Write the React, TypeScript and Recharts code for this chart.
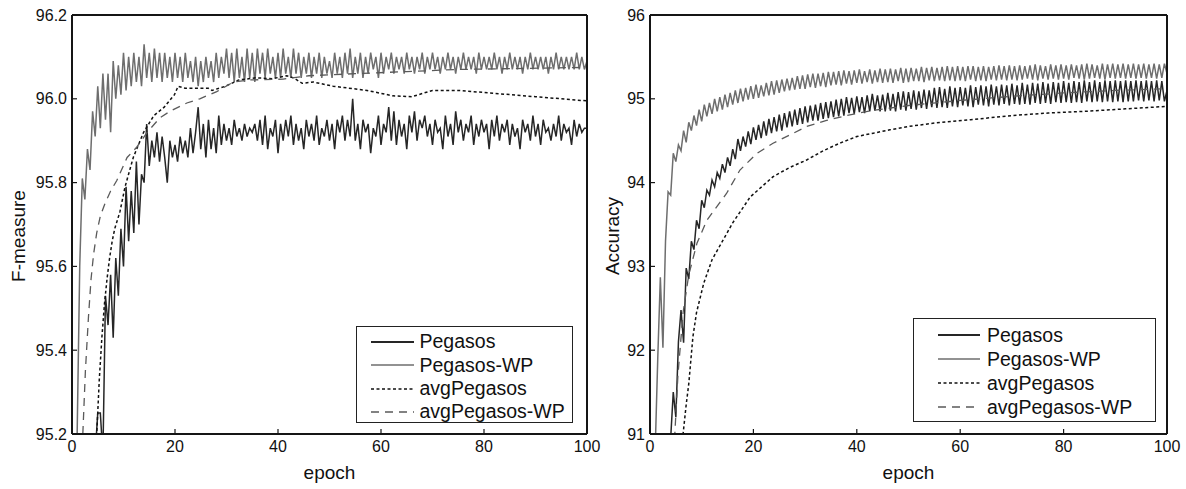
import React from 'react';
import { LineChart, Line, XAxis, YAxis, Legend, Label } from 'recharts';

const FONT = '"Liberation Sans", Arial, Helvetica, sans-serif';

// x categories: epochs sampled every half epoch
const epochs = Array.from({ length: 201 }, (_, i) => i * 0.5);

const xMajor = [0, 20, 40, 60, 80, 100];
const xMinor = [10, 30, 50, 70, 90];

const leftYTicks = [95.2, 95.4, 95.6, 95.8, 96.0, 96.2];
const leftYMinor = [95.3, 95.5, 95.7, 95.9, 96.1];
const rightYTicks = [91, 92, 93, 94, 95, 96];
const rightYMinor = [91.5, 92.5, 93.5, 94.5, 95.5];

const seriesNames = ['Pegasos', 'Pegasos-WP', 'avgPegasos', 'avgPegasos-WP'];

// ---------- Left panel: F-measure ----------
const leftPegasos = [
  94.30, 94.40, 94.50, 94.60, 94.70, 94.80, 94.90, 95.00, 95.05, 95.15,
  95.25, 95.25, 95.15, 95.53, 95.46, 95.58, 95.43, 95.62, 95.53, 95.69,
  95.60, 95.79, 95.66, 95.78, 95.68, 95.85, 95.70, 95.82, 95.80, 95.94,
  95.84, 95.90, 95.86, 95.92, 95.85, 95.91, 95.86, 95.80, 95.90, 95.86,
  95.89, 95.85, 95.91, 95.87, 95.90, 95.86, 95.93, 95.87, 95.92, 95.98,
  95.88, 95.94, 95.86, 95.95, 95.88, 95.93, 95.87, 95.96, 95.89, 95.94,
  95.90, 95.93, 95.89, 95.95, 95.91, 95.93, 95.90, 95.94, 95.91, 95.93,
  95.92, 95.94, 95.90, 95.95, 95.89, 95.96, 95.88, 95.93, 95.91, 95.95,
  95.87, 95.94, 95.90, 95.95, 95.91, 95.96, 95.89, 95.94, 95.90, 95.93,
  95.88, 95.95, 95.91, 95.94, 95.90, 95.96, 95.89, 95.93, 95.91, 95.95,
  95.90, 95.94, 95.88, 95.95, 95.92, 95.96, 95.90, 95.95, 95.91, 96.00,
  95.90, 95.94, 95.88, 95.95, 95.92, 95.94, 95.87, 95.93, 95.91, 95.96,
  95.89, 95.94, 95.92, 95.98, 95.90, 95.97, 95.89, 95.95, 95.91, 95.94,
  95.88, 95.96, 95.92, 95.97, 95.90, 95.95, 95.93, 95.96, 95.91, 95.94,
  95.89, 95.95, 95.92, 95.93, 95.88, 95.96, 95.91, 95.94, 95.89, 95.97,
  95.92, 95.95, 95.90, 95.94, 95.92, 95.96, 95.89, 95.94, 95.91, 95.95,
  95.92, 95.94, 95.88, 95.95, 95.91, 95.96, 95.90, 95.94, 95.92, 95.95,
  95.89, 95.94, 95.91, 95.93, 95.88, 95.95, 95.92, 95.94, 95.90, 95.96,
  95.91, 95.94, 95.89, 95.95, 95.92, 95.93, 95.90, 95.94, 95.91, 95.96,
  95.90, 95.94, 95.92, 95.93, 95.89, 95.95, 95.91, 95.94, 95.92, 95.93,
  95.93,
];

const leftPegasosWP = [
  94.60, 94.85, 95.20, 95.60, 95.81, 95.76, 95.88, 95.83, 95.97, 95.91,
  96.03, 95.93, 96.06, 95.95, 96.06, 95.92, 96.09, 96.00, 96.08, 96.01,
  96.11, 96.02, 96.10, 96.03, 96.11, 96.04, 96.10, 96.03, 96.13, 96.05,
  96.11, 96.04, 96.12, 96.05, 96.11, 96.04, 96.11, 96.05, 96.10, 96.04,
  96.11, 96.05, 96.10, 96.04, 96.11, 96.05, 96.09, 96.04, 96.10, 96.03,
  96.09, 96.04, 96.10, 96.05, 96.09, 96.04, 96.11, 96.05, 96.10, 96.06,
  96.12, 96.05, 96.11, 96.04, 96.12, 96.05, 96.10, 96.04, 96.12, 96.05,
  96.11, 96.04, 96.12, 96.06, 96.11, 96.05, 96.12, 96.06, 96.10, 96.05,
  96.11, 96.05, 96.12, 96.06, 96.10, 96.05, 96.12, 96.06, 96.11, 96.05,
  96.10, 96.06, 96.11, 96.05, 96.10, 96.06, 96.11, 96.05, 96.10, 96.06,
  96.09, 96.05, 96.11, 96.06, 96.10, 96.05, 96.11, 96.06, 96.12, 96.05,
  96.10, 96.06, 96.11, 96.05, 96.10, 96.06, 96.11, 96.07, 96.10, 96.05,
  96.11, 96.06, 96.10, 96.07, 96.11, 96.06, 96.10, 96.07, 96.10, 96.06,
  96.11, 96.07, 96.10, 96.06, 96.10, 96.07, 96.11, 96.06, 96.10, 96.07,
  96.11, 96.07, 96.10, 96.06, 96.10, 96.07, 96.11, 96.07, 96.10, 96.06,
  96.10, 96.07, 96.11, 96.07, 96.10, 96.07, 96.10, 96.06, 96.11, 96.07,
  96.10, 96.07, 96.10, 96.07, 96.11, 96.07, 96.10, 96.06, 96.10, 96.07,
  96.11, 96.07, 96.10, 96.07, 96.10, 96.06, 96.10, 96.07, 96.11, 96.07,
  96.10, 96.07, 96.10, 96.07, 96.10, 96.06, 96.10, 96.07, 96.11, 96.07,
  96.10, 96.07, 96.10, 96.07, 96.10, 96.07, 96.11, 96.07, 96.10, 96.07,
  96.09,
];

const leftAvgPegasosX = [4.3, 4.8, 5.3, 5.8, 6.3, 6.8, 7.3, 7.8, 8.3, 9.3, 10.3, 11.9, 13.9, 15.9, 17.9, 19.9, 20.6, 22, 24, 26.5, 27.2, 29.8, 32.4, 35.7, 38.9, 41.7, 43, 44.7, 46.9, 50.7, 57.3, 62.3, 66, 70, 75, 80, 85, 90, 95, 100];
const leftAvgPegasosY = [95.05, 95.2, 95.33, 95.43, 95.51, 95.57, 95.62, 95.66, 95.69, 95.73, 95.79, 95.86, 95.92, 95.96, 95.98, 96.01, 96.03, 96.025, 96.025, 96.025, 96.02, 96.03, 96.045, 96.05, 96.048, 96.055, 96.05, 96.037, 96.04, 96.03, 96.02, 96.007, 96.005, 96.02, 96.02, 96.015, 96.01, 96.005, 96.0, 95.995];

const leftAvgWPX = [1.8, 2.1, 2.6, 3.2, 3.7, 4.2, 4.8, 5.5, 6.4, 7.5, 8.7, 10.7, 12.6, 14.6, 17.1, 19, 22.3, 24.8, 28.1, 31.3, 34.6, 41, 46, 55, 65, 75, 85, 100];
const leftAvgWPY = [95.1, 95.2, 95.35, 95.48, 95.57, 95.63, 95.68, 95.72, 95.75, 95.78, 95.805, 95.86, 95.885, 95.92, 95.955, 95.97, 95.99, 96.0, 96.017, 96.04, 96.045, 96.047, 96.055, 96.06, 96.065, 96.07, 96.072, 96.075];

// ---------- Right panel: Accuracy ----------
const rightPegasos = [
  89.50, 89.70, 89.90, 90.10, 90.30, 90.50, 90.70, 90.85, 90.95, 91.50,
  91.20, 92.10, 92.48, 92.09, 92.98, 92.85, 93.30, 93.20, 93.55, 93.45,
  93.79, 93.70, 93.91, 93.85, 94.03, 93.95, 94.12, 94.05, 94.22, 94.12,
  94.30, 94.20, 94.40, 94.28, 94.52, 94.38, 94.55, 94.43, 94.61, 94.46,
  94.66, 94.51, 94.69, 94.53, 94.73, 94.56, 94.76, 94.59, 94.78, 94.61,
  94.81, 94.62, 94.83, 94.66, 94.85, 94.67, 94.87, 94.69, 94.89, 94.70,
  94.91, 94.72, 94.92, 94.74, 94.93, 94.74, 94.95, 94.76, 94.96, 94.77,
  94.97, 94.78, 94.99, 94.79, 95.00, 94.80, 95.02, 94.83, 95.01, 94.82,
  95.03, 94.84, 95.02, 94.83, 95.04, 94.85, 95.06, 94.86, 95.04, 94.85,
  95.05, 94.85, 95.07, 94.86, 95.06, 94.85, 95.08, 94.87, 95.09, 94.86,
  95.08, 94.88, 95.10, 94.87, 95.09, 94.89, 95.11, 94.88, 95.10, 94.90,
  95.13, 94.89, 95.14, 94.90, 95.12, 94.89, 95.15, 94.91, 95.13, 94.90,
  95.14, 94.92, 95.13, 94.91, 95.16, 94.90, 95.14, 94.93, 95.16, 94.92,
  95.15, 94.91, 95.17, 94.93, 95.15, 94.92, 95.17, 94.94, 95.16, 94.92,
  95.18, 94.94, 95.16, 94.93, 95.19, 94.94, 95.17, 94.93, 95.19, 94.95,
  95.18, 94.94, 95.20, 94.95, 95.18, 94.94, 95.20, 94.96, 95.19, 94.95,
  95.21, 94.96, 95.19, 94.95, 95.21, 94.96, 95.20, 94.95, 95.22, 94.97,
  95.20, 94.96, 95.22, 94.97, 95.20, 94.96, 95.22, 94.97, 95.21, 94.96,
  95.22, 94.97, 95.21, 94.96, 95.22, 94.97, 95.21, 94.97, 95.22, 94.98,
  95.21, 94.97, 95.22, 94.98, 95.21, 94.97, 95.22, 94.98, 95.21, 94.97,
  95.10,
];

const rightPegasosWP = [
  90.00, 90.30, 90.80, 91.90, 92.87, 92.03, 93.30, 93.89, 93.85, 94.35,
  94.25, 94.45, 94.38, 94.62, 94.48, 94.72, 94.62, 94.80, 94.68, 94.87,
  94.73, 94.93, 94.79, 94.95, 94.82, 95.00, 94.85, 95.02, 94.87, 95.05,
  94.90, 95.07, 94.93, 95.10, 94.95, 95.12, 94.97, 95.13, 94.99, 95.15,
  95.00, 95.17, 95.01, 95.16, 95.03, 95.19, 95.04, 95.21, 95.05, 95.22,
  95.07, 95.23, 95.09, 95.24, 95.10, 95.25, 95.11, 95.27, 95.12, 95.28,
  95.12, 95.29, 95.14, 95.30, 95.13, 95.30, 95.15, 95.31, 95.14, 95.32,
  95.16, 95.32, 95.17, 95.33, 95.16, 95.34, 95.18, 95.33, 95.17, 95.34,
  95.19, 95.35, 95.18, 95.33, 95.20, 95.35, 95.18, 95.34, 95.20, 95.36,
  95.19, 95.35, 95.20, 95.36, 95.19, 95.35, 95.21, 95.37, 95.19, 95.36,
  95.20, 95.37, 95.21, 95.36, 95.21, 95.38, 95.20, 95.37, 95.22, 95.38,
  95.21, 95.37, 95.22, 95.38, 95.21, 95.39, 95.22, 95.38, 95.21, 95.39,
  95.22, 95.38, 95.21, 95.39, 95.23, 95.39, 95.21, 95.38, 95.22, 95.39,
  95.21, 95.38, 95.23, 95.39, 95.22, 95.40, 95.23, 95.39, 95.22, 95.40,
  95.23, 95.39, 95.22, 95.40, 95.23, 95.39, 95.24, 95.40, 95.23, 95.41,
  95.22, 95.40, 95.24, 95.39, 95.23, 95.41, 95.24, 95.40, 95.23, 95.41,
  95.24, 95.40, 95.23, 95.41, 95.25, 95.40, 95.24, 95.41, 95.23, 95.42,
  95.24, 95.41, 95.25, 95.40, 95.24, 95.42, 95.23, 95.41, 95.25, 95.42,
  95.24, 95.41, 95.25, 95.42, 95.24, 95.41, 95.25, 95.42, 95.24, 95.41,
  95.25, 95.42, 95.24, 95.41, 95.25, 95.42, 95.24, 95.41, 95.25, 95.42,
  95.30,
];

const rightAvgPegasosX = [5.5, 6.4, 7, 7.5, 8.3, 9, 10.4, 12, 14.1, 16, 19.4, 23.8, 27, 30.3, 33.5, 36.7, 40, 43.2, 46.4, 50, 55, 62, 70, 77, 84, 92, 100];
const rightAvgPegasosY = [90.6, 91.0, 91.35, 91.6, 92.16, 92.45, 92.8, 93.08, 93.31, 93.52, 93.83, 94.07, 94.18, 94.27, 94.38, 94.47, 94.55, 94.59, 94.63, 94.67, 94.71, 94.75, 94.8, 94.83, 94.85, 94.88, 94.91];

const rightAvgWPX = [4.2, 4.8, 5.4, 6.4, 7.5, 9.1, 11, 13, 14.8, 17.4, 20.7, 23.8, 27.1, 30.3, 34, 38, 43, 50, 60, 70, 80, 90, 100];
const rightAvgWPY = [90.6, 91.0, 91.7, 92.45, 92.9, 93.28, 93.55, 93.72, 93.87, 94.15, 94.35, 94.47, 94.57, 94.67, 94.74, 94.8, 94.86, 94.92, 94.98, 95.03, 95.07, 95.1, 95.12];

// ---------- helpers ----------
const byEpoch = (ys: number[]) => epochs.map((x, i) => ({ x, y: ys[i] }));
const pairs = (xs: number[], ys: number[]) => xs.map((x, i) => ({ x, y: ys[i] }));

const seriesStyles = [
  { stroke: '#262626', width: 1.5, dash: undefined as string | undefined, legendWidth: 2.2 },
  { stroke: '#6e6e6e', width: 1.5, dash: undefined as string | undefined, legendWidth: 1.6 },
  { stroke: '#111111', width: 1.5, dash: '3 2.5', legendWidth: 1.6 },
  { stroke: '#5a5a5a', width: 1.3, dash: '8 6', legendWidth: 1.4 },
];

const AXIS = '#151515';

type LegendGeom = { left: number; top: number; width: number; height: number; padL: number; padT: number; lineLen: number; gap: number; rowH: number };

function LegendBox({ g }: { g: LegendGeom }) {
  return (
    <div
      style={{
        width: '100%', height: '100%', boxSizing: 'border-box', border: '1.3px solid #222',
        background: '#fff', paddingTop: g.padT, paddingLeft: g.padL, fontFamily: FONT,
        fontSize: 19.5, color: '#111',
      }}
    >
      {seriesNames.map((name, i) => (
        <div key={name} style={{ display: 'flex', alignItems: 'center', height: g.rowH, lineHeight: `${g.rowH}px`, whiteSpace: 'nowrap' }}>
          <svg width={g.lineLen} height={6} style={{ display: 'block' }}>
            <line x1={0} y1={3} x2={g.lineLen} y2={3} stroke={seriesStyles[i].stroke} strokeWidth={seriesStyles[i].legendWidth} strokeDasharray={seriesStyles[i].dash} />
          </svg>
          <span style={{ marginLeft: g.gap }}>{name}</span>
        </div>
      ))}
    </div>
  );
}

function YTitle(props: any) {
  const { viewBox, text, dx, dy } = props;
  const cx = viewBox.x + dx;
  const cy = viewBox.y + viewBox.height / 2 + dy;
  return (
    <text x={cx} y={cy} transform={`rotate(-90 ${cx} ${cy})`} textAnchor="middle" dominantBaseline="central" fontSize={19} fill="#111" fontFamily={FONT}>
      {text}
    </text>
  );
}

type PanelProps = {
  left: number;
  width: number;
  margin: { top: number; right: number; bottom: number; left: number };
  yDomain: [number, number];
  yTicks: number[];
  yMinor: number[];
  yFmt: (v: number) => string;
  yTitle: string;
  yTitleDx: number;
  data: { x: number; y: number }[][];
  legend: LegendGeom;
};

function Panel(p: PanelProps) {
  const tickStyle = { fontSize: 16, fill: '#111', fontFamily: FONT };
  const lineStyle = { stroke: AXIS, strokeWidth: 1.2 };
  const axisLineStyle = { stroke: AXIS, strokeWidth: 2 };
  return (
    <div style={{ position: 'absolute', left: p.left, top: 0 }}>
      <LineChart width={p.width} height={489} margin={p.margin}>
        <XAxis xAxisId="b" orientation="bottom" type="number" dataKey="x" domain={[0, 100]} ticks={xMajor} interval={0} allowDataOverflow height={1}
          tickSize={-5} tickMargin={12} axisLine={axisLineStyle} tickLine={lineStyle} tick={tickStyle}>
          <Label value="epoch" position="bottom" offset={31} style={{ fontSize: 19, fill: '#111', fontFamily: FONT }} />
        </XAxis>
        <XAxis xAxisId="bm" orientation="bottom" type="number" dataKey="x" domain={[0, 100]} ticks={xMinor} interval={0} allowDataOverflow height={1}
          tickSize={-3} axisLine={false} tickLine={lineStyle} tick={false} />
        <XAxis xAxisId="t" orientation="top" type="number" dataKey="x" domain={[0, 100]} ticks={xMajor} interval={0} allowDataOverflow height={1}
          tickSize={-5} axisLine={axisLineStyle} tickLine={lineStyle} tick={false} />
        <XAxis xAxisId="tm" orientation="top" type="number" dataKey="x" domain={[0, 100]} ticks={xMinor} interval={0} allowDataOverflow height={1}
          tickSize={-3} axisLine={false} tickLine={lineStyle} tick={false} />

        <YAxis yAxisId="l" orientation="left" type="number" domain={p.yDomain} ticks={p.yTicks} interval={0} allowDataOverflow width={1}
          tickSize={-5} tickMargin={10} axisLine={axisLineStyle} tickLine={lineStyle} tick={tickStyle} tickFormatter={p.yFmt}>
          <Label content={(lp: any) => <YTitle {...lp} text={p.yTitle} dx={p.yTitleDx} dy={11.5} />} />
        </YAxis>
        <YAxis yAxisId="lm" orientation="left" type="number" domain={p.yDomain} ticks={p.yMinor} interval={0} allowDataOverflow width={1}
          tickSize={-3} axisLine={false} tickLine={lineStyle} tick={false} />
        <YAxis yAxisId="r" orientation="right" type="number" domain={p.yDomain} ticks={p.yTicks} interval={0} allowDataOverflow width={1}
          tickSize={-5} axisLine={axisLineStyle} tickLine={lineStyle} tick={false} />
        <YAxis yAxisId="rm" orientation="right" type="number" domain={p.yDomain} ticks={p.yMinor} interval={0} allowDataOverflow width={1}
          tickSize={-3} axisLine={false} tickLine={lineStyle} tick={false} />

        {p.data.map((d, i) => (
          <Line key={seriesNames[i]} name={seriesNames[i]} data={d} xAxisId="b" yAxisId="l" dataKey="y" type="linear"
            stroke={seriesStyles[i].stroke} strokeWidth={seriesStyles[i].width} strokeDasharray={seriesStyles[i].dash}
            dot={false} activeDot={false} isAnimationActive={false} />
        ))}

        <Legend layout="vertical" align="center" verticalAlign="middle"
          wrapperStyle={{ left: p.legend.left, top: p.legend.top, width: p.legend.width, height: p.legend.height, bottom: 'auto', right: 'auto' }}
          content={() => <LegendBox g={p.legend} />} />
      </LineChart>
    </div>
  );
}

export default function App() {
  const leftData = [
    byEpoch(leftPegasos),
    byEpoch(leftPegasosWP),
    pairs(leftAvgPegasosX, leftAvgPegasosY),
    pairs(leftAvgWPX, leftAvgWPY),
  ];
  const rightData = [
    byEpoch(rightPegasos),
    byEpoch(rightPegasosWP),
    pairs(rightAvgPegasosX, rightAvgPegasosY),
    pairs(rightAvgWPX, rightAvgWPY),
  ];
  return (
    <div style={{ position: 'absolute', left: 0, top: 0, width: 1186, height: 489, background: '#fff' }}>
      <Panel
        left={0}
        width={620}
        margin={{ top: 13, right: 31, bottom: 53, left: 70 }}
        yDomain={[95.2, 96.2]}
        yTicks={leftYTicks}
        yMinor={leftYMinor}
        yFmt={(v) => v.toFixed(1)}
        yTitle="F-measure"
        yTitleDx={-52.5}
        data={leftData}
        legend={{ left: 356, top: 326, width: 217, height: 97, padL: 14, padT: 3.4, lineLen: 43, gap: 5.5, rowH: 23.3 }}
      />
      <Panel
        left={595}
        width={591}
        margin={{ top: 13, right: 17, bottom: 53, left: 53 }}
        yDomain={[91, 96]}
        yTicks={rightYTicks}
        yMinor={rightYMinor}
        yFmt={(v) => String(v)}
        yTitle="Accuracy"
        yTitleDx={-36.5}
        data={rightData}
        legend={{ left: 318, top: 318, width: 243, height: 104, padL: 24, padT: 4, lineLen: 42, gap: 7, rowH: 24 }}
      />
    </div>
  );
}
